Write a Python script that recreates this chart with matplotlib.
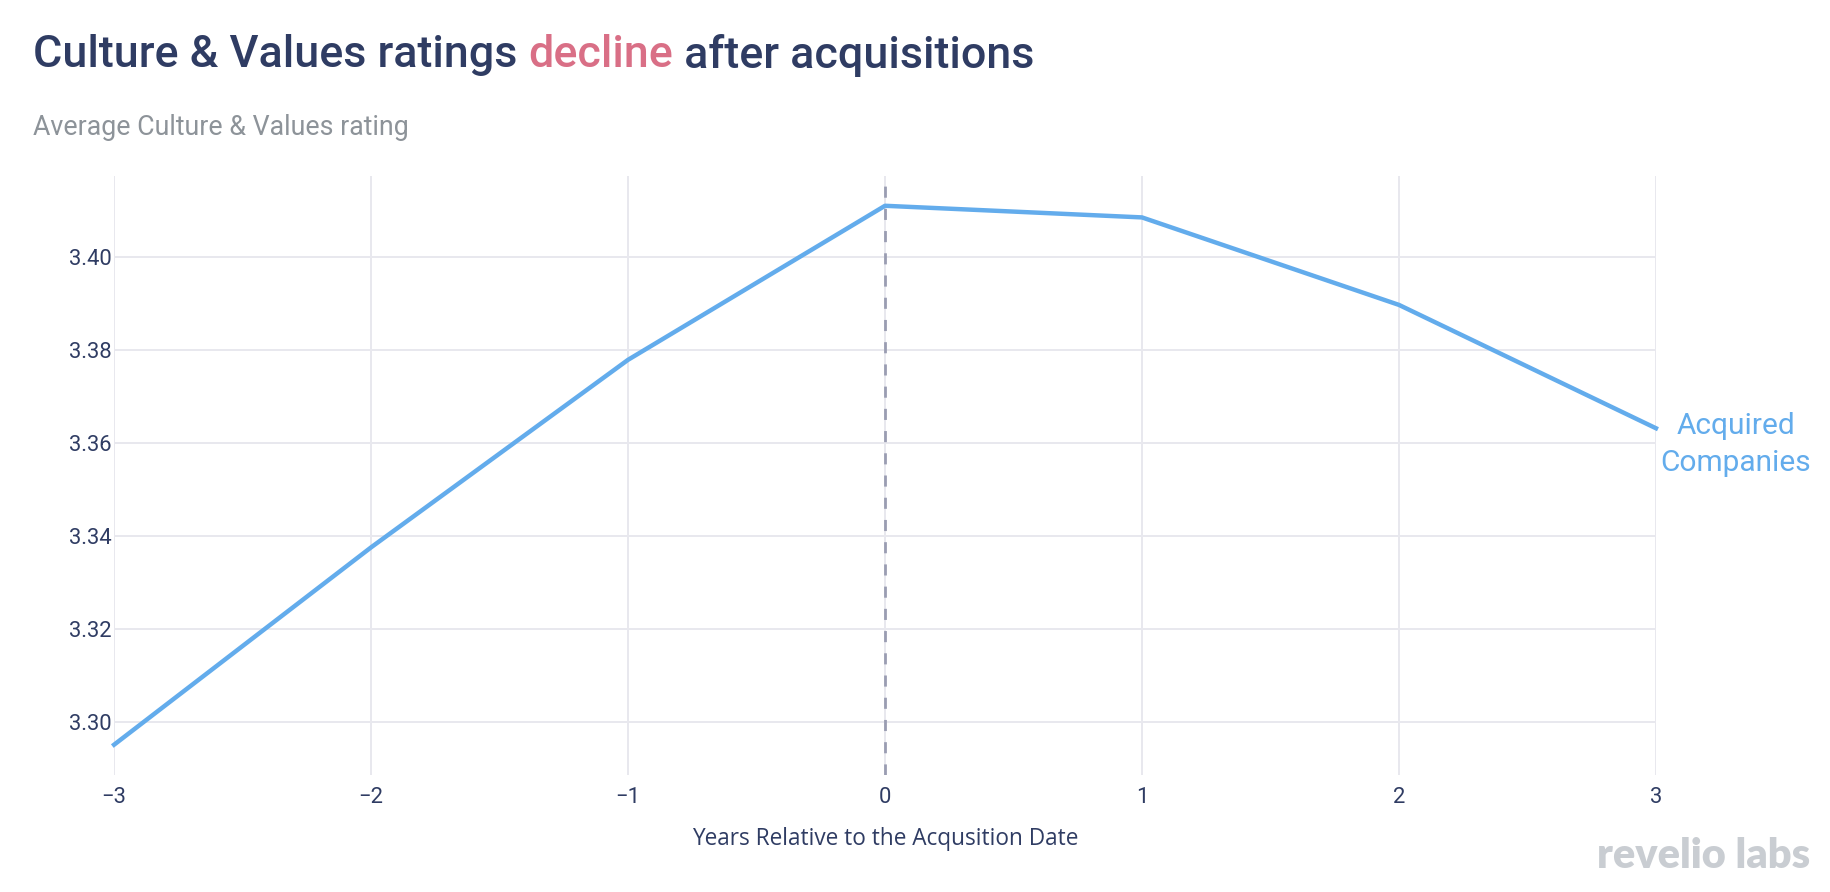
import matplotlib
matplotlib.use("Agg")
import matplotlib.pyplot as plt

# data
years = [-3, -2, -1, 0, 1, 2, 3]
rating = [3.2952, 3.3376, 3.3779, 3.4110, 3.4085, 3.3897, 3.3632]
yticks = [3.30, 3.32, 3.34, 3.36, 3.38, 3.40]
xticks = [-3, -2, -1, 0, 1, 2, 3]
xtick_labels = ["\u22123", "\u22122", "\u22121", "0", "1", "2", "3"]

navy = "#2f3c63"
blue = "#63acec"
grid = "#e8e8ee"

fig = plt.figure(figsize=(18.31, 8.92), dpi=100)
ax = fig.add_axes([0.0623, 0.1312, 0.9044 - 0.0623, 0.8027 - 0.1312])

ax.plot(years, rating, color=blue, lw=3.2, solid_joinstyle="round", clip_on=False, zorder=3)
ax.axvline(0, color="#9a9db2", lw=2.0, ls=(0, (4.0, 4.0)), zorder=2)

ax.set_xlim(-3, 3)
ax.set_ylim(3.2887, 3.4174)
ax.set_xticks(xticks)
ax.set_xticklabels(xtick_labels)
ax.set_yticks(yticks)
ax.set_yticklabels([f"{v:.2f}" for v in yticks])
ax.grid(True, color=grid, lw=1.4)
ax.set_axisbelow(True)
for s in ax.spines.values():
    s.set_visible(False)
ax.tick_params(length=0, colors=navy, labelsize=15.8)
ax.tick_params(axis="x", pad=8.5)
ax.tick_params(axis="y", pad=2)
for lab in ax.get_xticklabels() + ax.get_yticklabels():
    lab.set_family("Roboto")

ax.set_xlabel("Years Relative to the Acqusition Date", family="Open Sans",
              fontsize=16.3, color=navy, labelpad=14)

# series label at the line end
ax.text(3.31, 3.3597, "Acquired\nCompanies", color=blue, fontsize=21.5,
        family="Roboto", ha="center", va="center", linespacing=1.4)

# title with the highlighted word
fig.canvas.draw()
r = fig.canvas.get_renderer()
x = 0.018
for part, col in [("Culture & Values ratings ", navy), ("decline", "#d96f86"),
                  (" after acquisitions", navy)]:
    t = fig.text(x, 0.938, part, color=col, fontsize=32.3, family="Roboto",
                 weight="medium", va="center", ha="left")
    bb = t.get_window_extent(r)
    x += bb.width / fig.bbox.width

fig.text(0.018, 0.857, "Average Culture & Values rating", color="#8d9399",
         fontsize=19.3, family="Roboto", va="center", ha="left")

fig.text(0.9885, 0.040, "revelio labs", color="#c9cdd2", fontsize=30,
         family="Lato", weight="heavy", ha="right", va="center")

fig.savefig("out.png", dpi=100, facecolor="white")
